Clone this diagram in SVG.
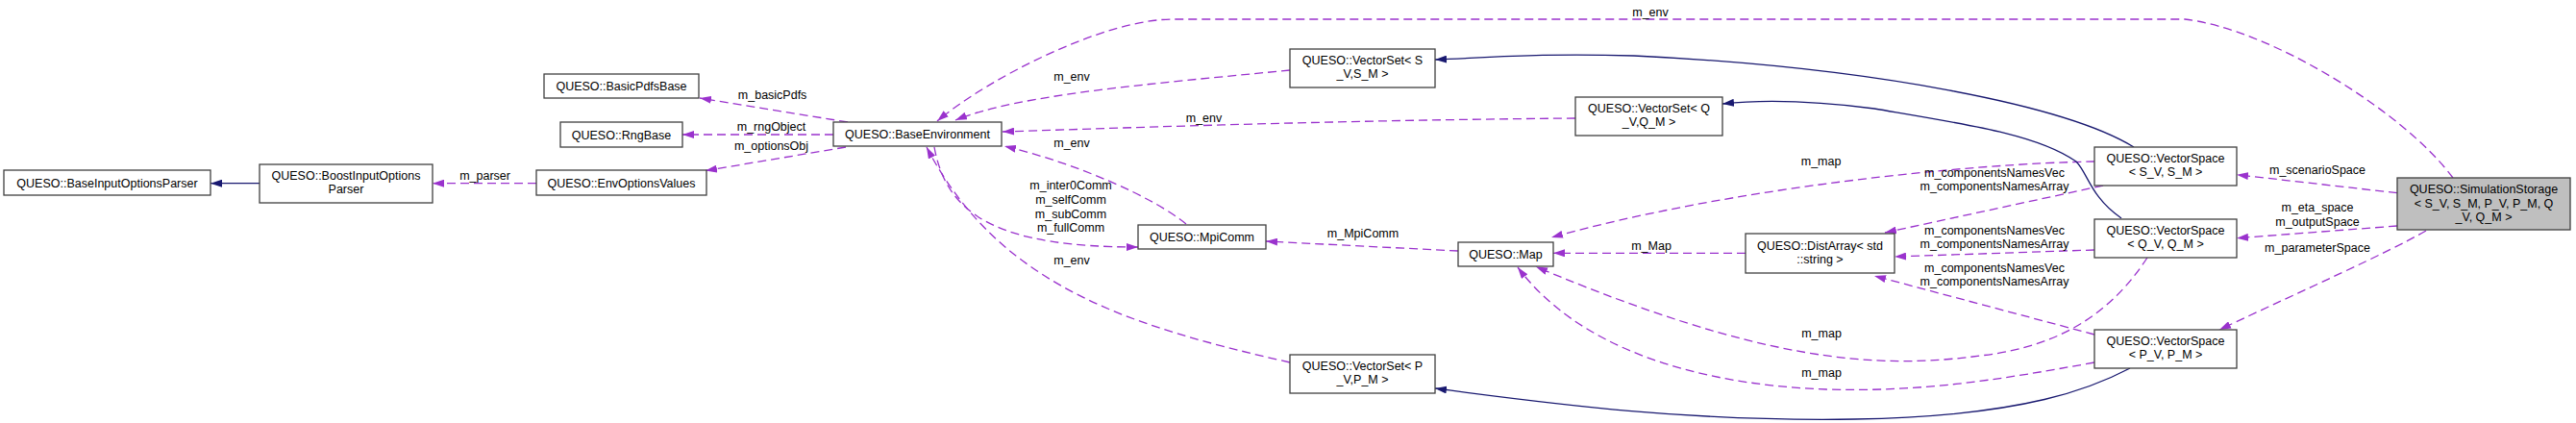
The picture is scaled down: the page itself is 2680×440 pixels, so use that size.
<svg xmlns="http://www.w3.org/2000/svg" width="2680" height="440" viewBox="0 0 2680 440">
<style>
text{font-family:"Liberation Sans",Arial,sans-serif;font-size:12.5px;fill:#000;text-anchor:middle}
.node rect{fill:#fff;stroke:#404040;stroke-width:1.3}
.node rect.hl{fill:#bfbfbf}
.use{fill:none;stroke:#9a32cd;stroke-width:1.3;stroke-dasharray:9,5;marker-end:url(#ap)}
.inh{fill:none;stroke:#191970;stroke-width:1.3;marker-end:url(#an)}
</style>
<defs>
<marker id="ap" viewBox="0 0 12 8" refX="12" refY="4" markerWidth="12" markerHeight="8" markerUnits="userSpaceOnUse" orient="auto"><path d="M0,0L12,4L0,8z" fill="#9a32cd"/></marker>
<marker id="an" viewBox="0 0 12 8" refX="12" refY="4" markerWidth="12" markerHeight="8" markerUnits="userSpaceOnUse" orient="auto"><path d="M0,0L12,4L0,8z" fill="#191970"/></marker>
</defs>
<rect width="2680" height="440" fill="#fff"/>
<g id="connectors">
<path class="inh" d="M270,190.7L219,190.7"/>
<path class="use" d="M558,190.7L450,190.7"/>
<text x="504.6" y="186.7">m_parser</text>
<path class="use" d="M882,127L728,102"/>
<text x="803.6" y="103">m_basicPdfs</text>
<path class="use" d="M867,140L710,140"/>
<text x="802.5" y="135.7">m_rngObject</text>
<path class="use" d="M880,153L734,177.5"/>
<text x="802.5" y="156.3">m_optionsObj</text>
<path class="use" d="M2552,185C2500,115 2360,30 2273,20L1220,20C1150,20 1030,80 975,126"/>
<text x="1717" y="16.7">m_env</text>
<path class="use" d="M1342,73C1200,87 1060,98 994,125"/>
<text x="1115" y="84">m_env</text>
<path class="use" d="M1639,123C1400,125 1200,132 1043,137"/>
<text x="1252.5" y="127.3">m_env</text>
<path class="use" d="M1234,233C1200,205 1120,170 1045,152"/>
<text x="1115" y="153">m_env</text>
<path class="use" d="M972,153C985,225 1040,257 1184,257"/>
<text x="1114" y="197.3">m_inter0Comm</text>
<text x="1114" y="212">m_selfComm</text>
<text x="1114" y="226.7">m_subComm</text>
<text x="1114" y="240.7">m_fullComm</text>
<path class="use" d="M1342,377C1180,340 1040,300 964,153"/>
<text x="1115" y="275">m_env</text>
<path class="use" d="M1517,261L1317,251"/>
<text x="1418" y="247.3">m_MpiComm</text>
<path class="use" d="M2179,168C2050,170 1800,195 1614,247"/>
<text x="1894.6" y="172.3">m_map</text>
<path class="use" d="M2188,193L1961,242"/>
<text x="2075" y="184">m_componentsNamesVec</text>
<text x="2075" y="198.3">m_componentsNamesArray</text>
<path class="use" d="M1816,263.3L1616,263.3"/>
<text x="1718" y="260">m_Map</text>
<path class="use" d="M2179,260L1971,267"/>
<text x="2075" y="244">m_componentsNamesVec</text>
<text x="2075" y="258.3">m_componentsNamesArray</text>
<path class="use" d="M2179,348L1950,287"/>
<text x="2075" y="283.3">m_componentsNamesVec</text>
<text x="2075" y="297.3">m_componentsNamesArray</text>
<path class="use" d="M2234,268C2200,320 2150,360 2060,370C1950,385 1830,375 1598,277.5"/>
<text x="1895" y="350.7">m_map</text>
<path class="use" d="M2179,377C2080,395 2000,408 1900,405C1760,400 1640,360 1579,278"/>
<text x="1895" y="392.3">m_map</text>
<path class="use" d="M2494,200.7L2327,181.7"/>
<text x="2411" y="180.7">m_scenarioSpace</text>
<path class="use" d="M2494,235L2327,247.7"/>
<text x="2411" y="220">m_eta_space</text>
<text x="2411" y="234.7">m_outputSpace</text>
<path class="use" d="M2524,240C2480,265 2400,300 2309,343"/>
<text x="2411" y="262.3">m_parameterSpace</text>
<path class="inh" d="M2220,153C2150,110 1950,70 1700,58C1600,55 1550,60 1493,62"/>
<path class="inh" d="M2207,227C2175,205 2172,180 2160,168C2120,140 2050,130 1950,113C1880,104 1830,104 1792,108"/>
<path class="inh" d="M2216,383C2180,402 2110,433 1930,436C1750,439 1600,418 1493,404"/>
</g>
<g id="BaseInputOptionsParser" class="node"><rect x="4" y="177" width="215" height="26"/><text x="111.5" y="194.5">QUESO::BaseInputOptionsParser</text></g>
<g id="BoostInputOptionsParser" class="node"><rect x="270" y="171" width="180" height="40"/><text x="360" y="187">QUESO::BoostInputOptions</text><text x="360" y="201">Parser</text></g>
<g id="BasicPdfsBase" class="node"><rect x="566" y="77" width="161" height="25"/><text x="646.5" y="94">QUESO::BasicPdfsBase</text></g>
<g id="RngBase" class="node"><rect x="583" y="127" width="127" height="26"/><text x="646.5" y="144.5">QUESO::RngBase</text></g>
<g id="EnvOptionsValues" class="node"><rect x="558" y="177" width="177" height="26"/><text x="646.5" y="194.5">QUESO::EnvOptionsValues</text></g>
<g id="BaseEnvironment" class="node"><rect x="867" y="127" width="175" height="25"/><text x="954.5" y="144">QUESO::BaseEnvironment</text></g>
<g id="VectorSetS" class="node"><rect x="1342" y="51" width="151" height="40"/><text x="1417.5" y="67">QUESO::VectorSet&lt; S</text><text x="1417.5" y="81">_V,S_M &gt;</text></g>
<g id="VectorSetQ" class="node"><rect x="1639" y="101" width="153" height="40"/><text x="1715.5" y="117">QUESO::VectorSet&lt; Q</text><text x="1715.5" y="131">_V,Q_M &gt;</text></g>
<g id="VectorSetP" class="node"><rect x="1342" y="369" width="151" height="40"/><text x="1417.5" y="385">QUESO::VectorSet&lt; P</text><text x="1417.5" y="399">_V,P_M &gt;</text></g>
<g id="MpiComm" class="node"><rect x="1184" y="234" width="133" height="25"/><text x="1250.5" y="251">QUESO::MpiComm</text></g>
<g id="Map" class="node"><rect x="1517" y="252" width="99" height="25"/><text x="1566.5" y="269">QUESO::Map</text></g>
<g id="DistArray" class="node"><rect x="1816" y="243" width="155" height="41"/><text x="1893.5" y="259.5">QUESO::DistArray&lt; std</text><text x="1893.5" y="274">::string &gt;</text></g>
<g id="VectorSpaceS" class="node"><rect x="2179" y="153" width="148" height="40"/><text x="2253" y="169">QUESO::VectorSpace</text><text x="2253" y="183">&lt; S_V, S_M &gt;</text></g>
<g id="VectorSpaceQ" class="node"><rect x="2179" y="228" width="148" height="40"/><text x="2253" y="244">QUESO::VectorSpace</text><text x="2253" y="258">&lt; Q_V, Q_M &gt;</text></g>
<g id="VectorSpaceP" class="node"><rect x="2179" y="343" width="148" height="40"/><text x="2253" y="359">QUESO::VectorSpace</text><text x="2253" y="373">&lt; P_V, P_M &gt;</text></g>
<g id="SimulationStorage" class="node"><rect class="hl" x="2494" y="185" width="180" height="54"/><text x="2584" y="201">QUESO::SimulationStorage</text><text x="2584" y="215.5">&lt; S_V, S_M, P_V, P_M, Q</text><text x="2584" y="230">_V, Q_M &gt;</text></g>
</svg>
